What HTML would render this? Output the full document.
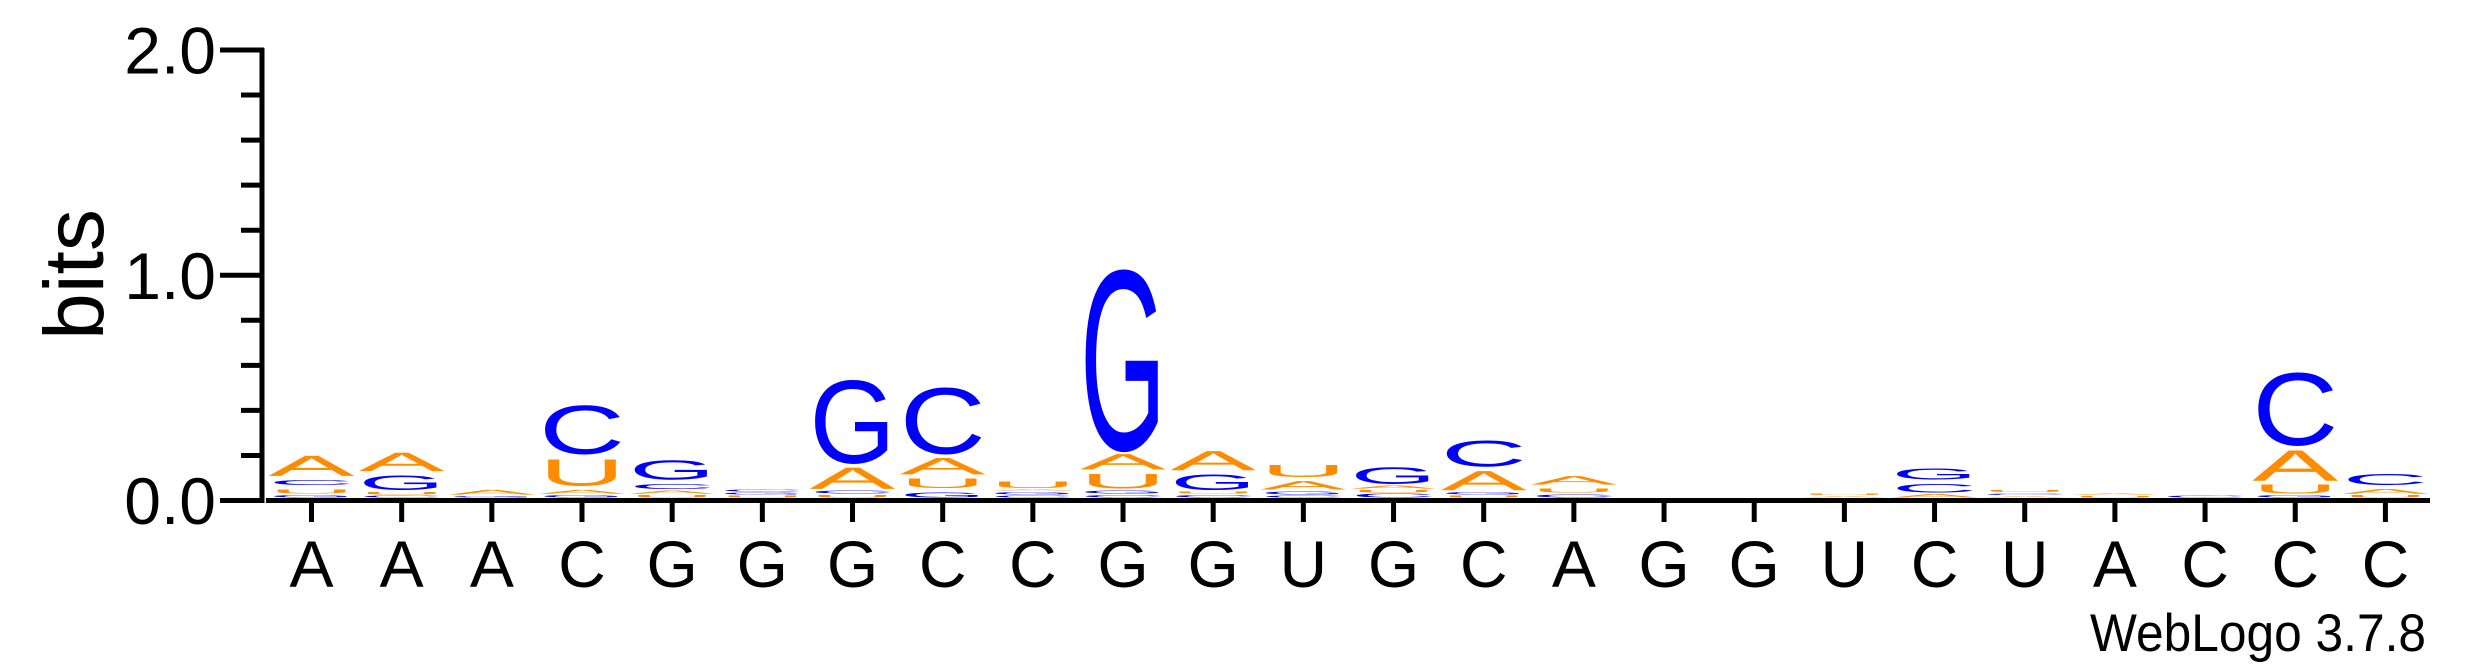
<!DOCTYPE html>
<html><head><meta charset="utf-8"><style>
html,body{margin:0;padding:0;background:#fff;width:2475px;height:667px;overflow:hidden}
svg{display:block}
text{font-family:"Liberation Sans",Arial,sans-serif}
</style></head><body>
<svg id="logo" width="2475" height="667" viewBox="0 0 2475 667" xmlns="http://www.w3.org/2000/svg">
<g id="yaxis"></g>
<g id="xaxis"></g>
<g id="stacks"></g>
<text transform="translate(103,274.5) rotate(-90)" text-anchor="middle" font-size="84">bits</text>
<text x="2090" y="651" font-size="53" textLength="336" lengthAdjust="spacingAndGlyphs">WebLogo 3.7.8</text>
</svg>
<script>
const positions = ["A","A","A","C","G","G","G","C","C","G","G","U","G","C","A","G","G","U","C","U","A","C","C","C"];
// letters per column, bottom to top
const stackLetters = [
 ["G","U","C","A"],["C","U","G","A"],["G","A"],["G","A","U","C"],["U","A","C","G"],["U","G","C"],
 ["U","C","A","G"],["G","U","A","C"],["C","G","A","U"],["C","G","U","A","G"],["C","U","G","A"],["C","G","A","U"],
 ["C","U","A","G"],["U","G","A","C"],["C","U","A"],[],[],["A","U"],
 ["A","C","G"],["A","C","U"],["U","A"],["C"],["G","U","A","C"],["U","A","C"]
];
// heights in bits, matching stackLetters
const stackBits = [
 [0.012,0.018,0.024,0.092],[0.007,0.012,0.067,0.085],[0.006,0.022],[0.01,0.018,0.122,0.22],[0.01,0.015,0.024,0.088],[0.007,0.007,0.007],
 [0.01,0.015,0.098,0.378],[0.024,0.043,0.076,0.3],[0.007,0.01,0.006,0.029],[0.012,0.015,0.067,0.07,0.82],[0.012,0.007,0.071,0.088],[0.007,0.015,0.039,0.055],
 [0.016,0.01,0.015,0.076],[0.007,0.012,0.088,0.117],[0.015,0.018,0.039],[],[],[0.005,0.005],
 [0.016,0.039,0.049],[0.005,0.006,0.007],[0.005,0.007],[0.007],[0.01,0.04,0.14,0.33],[0.01,0.022,0.049]
];
const yTicks = [0,1,2];
const yTickLabels = ["0.0","1.0","2.0"];
const yMinorTicks = [0.2,0.4,0.6,0.8,1.2,1.4,1.6,1.8];

const NS="http://www.w3.org/2000/svg";
const Y0=500.5, PX_PER_BIT=225.25, X0=311.5, DX=90.17, LW=86;
const yScale=b=>Y0-b*PX_PER_BIT;
const xScale=i=>X0+DX*i;
const colorOf=l=>(l==="A"||l==="U")?"#FF8C00":"#0000FF";
function mk(tag,attrs,parent){const e=document.createElementNS(NS,tag);for(const k in attrs)e.setAttribute(k,attrs[k]);parent.appendChild(e);return e;}

const ya=document.getElementById('yaxis');
const yl=mk('line',{x1:262,y1:48,x2:262,y2:503,stroke:'#000','stroke-width':5},ya);


yTicks.forEach((t,k)=>{
 const y=yScale(t);
 const tk=mk('line',{x1:220,y1:y,x2:264,y2:y,stroke:'#000','stroke-width':5},ya);
 
 
 const tx=mk('text',{x:216,y:y+23.5,'text-anchor':'end','font-size':66},ya);
 tx.textContent=yTickLabels[k];
 
 
});
yMinorTicks.forEach(t=>{
 const y=yScale(t);
 const tk=mk('line',{x1:241,y1:y,x2:264,y2:y,stroke:'#000','stroke-width':5},ya);
 
 
});

const xa=document.getElementById('xaxis');
const xl=mk('line',{x1:266,y1:Y0,x2:2430,y2:Y0,stroke:'#000','stroke-width':5},xa);


positions.forEach((p,i)=>{
 const x=xScale(i);
 const tk=mk('line',{x1:x,y1:Y0,x2:x,y2:522,stroke:'#000','stroke-width':5},xa);
 
 
 const tx=mk('text',{x:x,y:587,'text-anchor':'middle','font-size':66},xa);
 tx.textContent=p;
 
 
});

const st=document.getElementById('stacks');
const CAP=0.716, FS=100, GAP=4;
stackLetters.forEach((letters,i)=>{
 const g=mk('g',{},st);
 
 
 let yb=Y0-3;
 letters.forEach((l,j)=>{
  const h=stackBits[i][j]*PX_PER_BIT;
  const sy=h/(CAP*FS);
  const t=mk('text',{x:0,y:0,'font-size':FS,fill:colorOf(l),textLength:LW,lengthAdjust:'spacingAndGlyphs',
   transform:`translate(${xScale(i)-LW/2},${yb}) scale(1,${sy})`},g);
  t.textContent=l;
  
  
  yb-=h+(h>4?GAP:1.5);
 });
});
</script>
</body></html>
